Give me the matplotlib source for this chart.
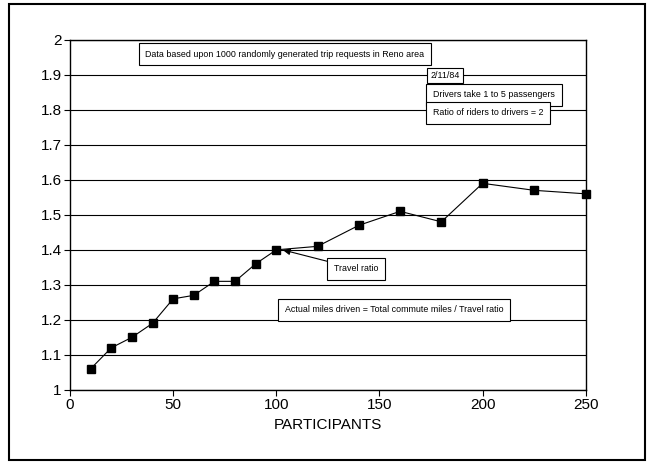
import matplotlib.pyplot as plt
from matplotlib.patches import Rectangle

plt.rcParams["font.family"] = ["Liberation Sans", "DejaVu Sans"]

participants = [10, 20, 30, 40, 50, 60, 70, 80, 90, 100, 120, 140, 160, 180, 200, 225, 250]
travel_ratio = [1.06, 1.12, 1.15, 1.19, 1.26, 1.27, 1.31, 1.31, 1.36, 1.40, 1.41, 1.47,
                1.51, 1.48, 1.59, 1.57, 1.56]
x_ticks = [0, 50, 100, 150, 200, 250]
y_ticks = [1, 1.1, 1.2, 1.3, 1.4, 1.5, 1.6, 1.7, 1.8, 1.9, 2]
y_tick_labels = ["1", "1.1", "1.2", "1.3", "1.4", "1.5", "1.6", "1.7", "1.8", "1.9", "2"]

fig = plt.figure(figsize=(6.48, 4.63), dpi=100)
fig.patches.append(Rectangle((0.014, 0.006), 0.981, 0.985, transform=fig.transFigure,
                             fill=False, edgecolor="black", linewidth=1.5))
ax = fig.add_axes([0.108, 0.158, 0.796, 0.756])

ax.plot(participants, travel_ratio, color="black", linewidth=0.8, marker="s",
        markersize=6, markerfacecolor="black", clip_on=False, zorder=3)

ax.set_xlim(0, 250)
ax.set_ylim(1, 2)
ax.set_xticks(x_ticks)
ax.set_yticks(y_ticks)
ax.set_yticklabels(y_tick_labels)
ax.tick_params(direction="out", length=4, labelsize=11, width=0.8, pad=2)
ax.grid(True, axis="y", color="black", linewidth=0.8)
for s in ax.spines.values():
    s.set_linewidth(1.0)
ax.set_xlabel("PARTICIPANTS", fontsize=11, labelpad=4)

box = dict(boxstyle="square,pad=0.75", facecolor="white", edgecolor="black", linewidth=0.8)
fs = 6.4
ax.text(36.5, 1.959, "Data based upon 1000 randomly generated trip requests in Reno area",
        fontsize=fs, va="center", bbox=box)
ax.text(174.5, 1.898, "2/11/84", fontsize=fs, va="center",
        bbox=dict(boxstyle="square,pad=0.35", facecolor="white", edgecolor="black", linewidth=0.8))
ax.text(176, 1.843, "Drivers take 1 to 5 passengers", fontsize=fs, va="center", bbox=box)
ax.text(176, 1.791, "Ratio of riders to drivers = 2", fontsize=fs, va="center", bbox=box)
ax.annotate("Travel ratio", xy=(103, 1.40), xytext=(128, 1.346), fontsize=fs, va="center",
            bbox=box, arrowprops=dict(arrowstyle="-|>,head_length=0.7,head_width=0.3",
                                      color="black", linewidth=0.8, shrinkA=0, shrinkB=0))
ax.text(104, 1.229, "Actual miles driven = Total commute miles / Travel ratio",
        fontsize=fs, va="center", bbox=box)

fig.savefig("out.png", dpi=100)
